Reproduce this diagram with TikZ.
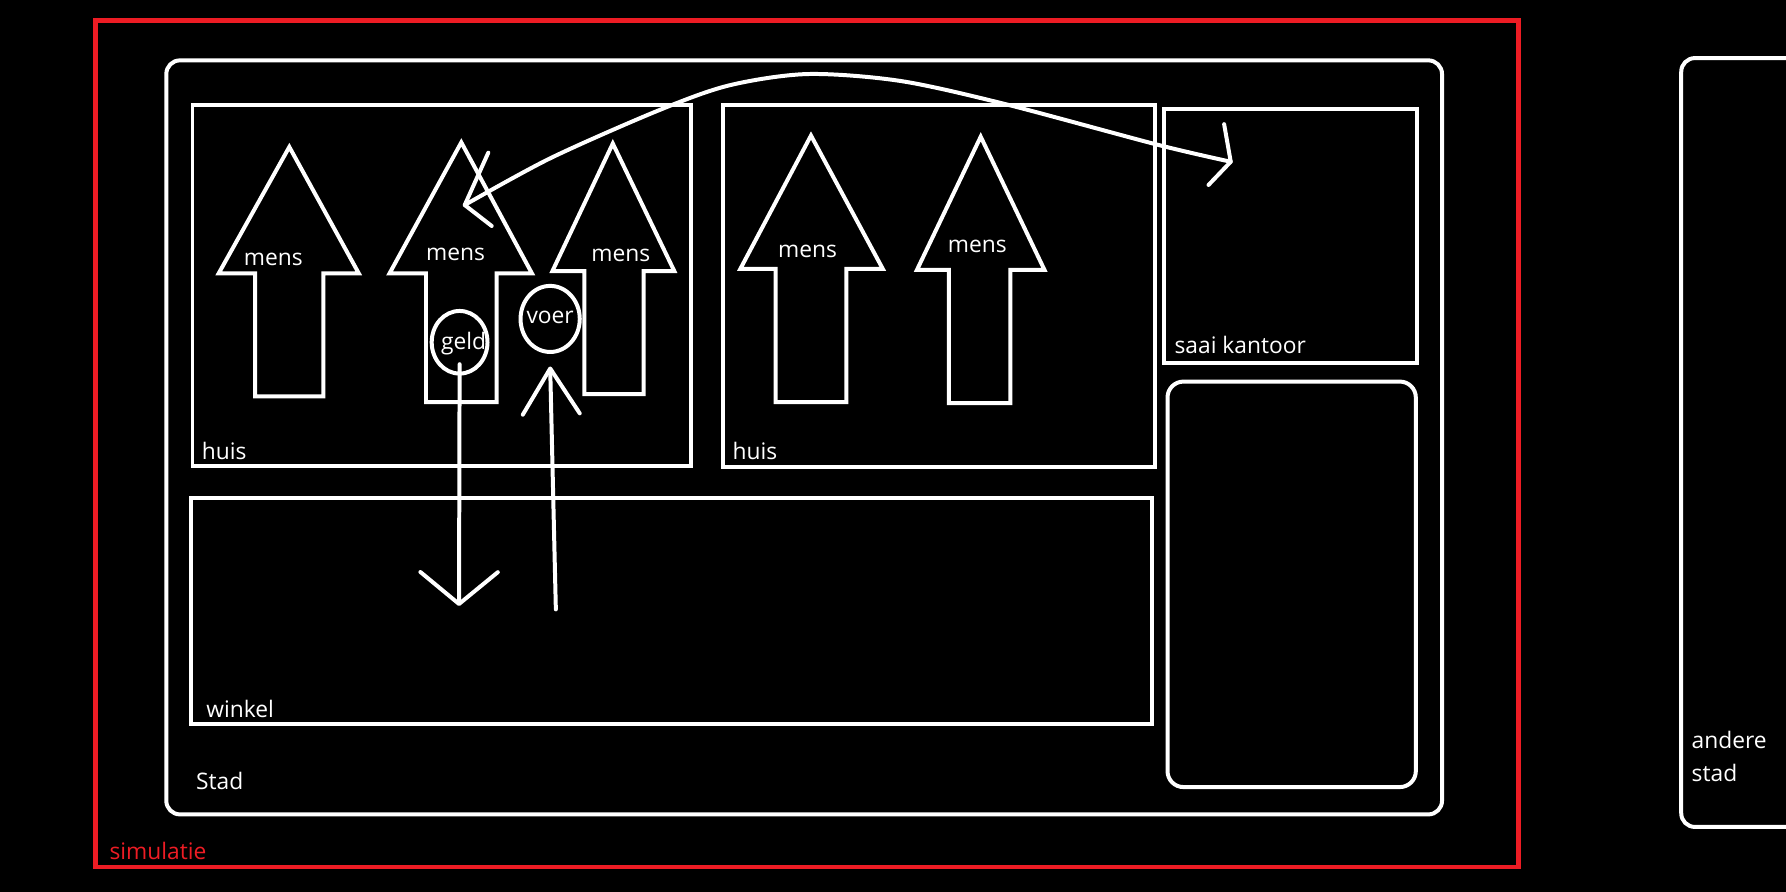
\documentclass[tikz,border=0pt]{standalone}
\usepackage{fontspec}
\setmainfont{Open Sans}
\usetikzlibrary{arrows.meta,shapes.geometric}
\definecolor{paintrood}{RGB}{237,28,36}

\begin{document}
\begin{tikzpicture}[x=1pt,y=-1pt,
  lijn/.style={draw=white,line width=3.5pt},
  vak/.style={lijn,rectangle,inner sep=0pt,outer sep=0pt,anchor=north west},
  tekst/.style={text=white,font=\fontsize{20}{29}\selectfont,inner sep=0pt},
  pijl/.style={draw=white,line width=3.5pt,line cap=round}]
\fill[black] (0,0) rectangle (1568,783);
\useasboundingbox (0,0) rectangle (1568,783);
\clip (0,0) rectangle (1568,783);

% simulatie en steden
\node[vak,draw=paintrood,line width=4pt,minimum width=1249pt,minimum height=743pt] (simulatie) at (84,18) {};
\node[tekst,text=paintrood,anchor=base west] (simulatietxt) at (96,755) {simulatie};
\node[vak,rounded corners=12pt,minimum width=1120pt,minimum height=662pt] (stad) at (146,53) {};
\node[tekst,anchor=base west] (stadtxt) at (172,693) {Stad};
\node[vak,rounded corners=12pt,minimum width=200pt,minimum height=675pt] (andereStad) at (1476,51) {};
\node[tekst,anchor=base west,align=left] (andereStadtxt) at (1485,686) {andere\\stad};

% gebouwen
\node[vak,minimum width=438pt,minimum height=317pt] (huisA) at (169,92) {};
\node[tekst,anchor=base west] (huisAtxt) at (177,403) {huis};
\node[vak,minimum width=379pt,minimum height=318pt] (huisB) at (635,92) {};
\node[tekst,anchor=base west] (huisBtxt) at (643,403) {huis};
\node[vak,minimum width=222pt,minimum height=223pt] (kantoor) at (1022,96) {};
\node[tekst,anchor=base west] (kantoortxt) at (1031,310) {saai kantoor};
\node[vak,rounded corners=14pt,minimum width=218pt,minimum height=356pt] (leeg) at (1025,335) {};
\node[vak,minimum width=843pt,minimum height=199pt] (winkel) at (168,437) {};
\node[tekst,anchor=base west] (winkeltxt) at (181,630) {winkel};

% mensen
\draw[lijn] (254,129) -- (315,240) -- (284,240) -- (284,348) -- (224,348) -- (224,240) -- (192,240) -- cycle;
\draw[lijn] (405,125) -- (467,240) -- (436,240) -- (436,353) -- (374,353) -- (374,240) -- (342,240) -- cycle;
\draw[lijn] (538,126) -- (592,238) -- (565,238) -- (565,346) -- (513,346) -- (513,238) -- (485,238) -- cycle;
\draw[lijn] (712,119) -- (775,236) -- (743,236) -- (743,353) -- (681,353) -- (681,236) -- (650,236) -- cycle;
\draw[lijn] (861,120) -- (917,237) -- (887,237) -- (887,354) -- (833,354) -- (833,237) -- (805,237) -- cycle;
\node[tekst,anchor=base] (mensA) at (240,233) {mens};
\node[tekst,anchor=base] (mensB) at (400,229) {mens};
\node[tekst,anchor=base] (mensC) at (545,230) {mens};
\node[tekst,anchor=base] (mensD) at (709,226) {mens};
\node[tekst,anchor=base] (mensE) at (858,222) {mens};

% geld en voer
\node[lijn,ellipse,minimum width=49pt,minimum height=55pt,inner sep=0pt] (geld) at (403.5,300.5) {};
\node[tekst,anchor=base] (geldtxt) at (407,307) {geld};
\node[lijn,ellipse,minimum width=52pt,minimum height=58pt,inner sep=0pt] (voer) at (483,280) {};
\node[tekst,anchor=base] (voertxt) at (483,284) {voer};

\coordinate (geldDoel) at (403,532);
\coordinate (voerBron) at (488,535);
\coordinate (mensDoel) at (408,180);
\coordinate (kantoorDoel) at (1080.5,142);

\draw[pijl,-{Straight Barb[length=28pt,width=68pt,round]}] ([yshift=10pt]geld.south) -- (geldDoel);
\draw[pijl,-{Straight Barb[length=40pt,width=50pt,round]}] (voerBron) -- ([yshift=-11pt]voer.south);
% heen en weer naar het kantoor
\draw[pijl] plot[smooth] coordinates {(mensDoel) (483,139) (578,97) (640,75) (709,65) (790,71) (881,91) (1016,127) (kantoorDoel)};
\draw[pijl,line join=round] (mensDoel) ++(20.7,-46) -- (mensDoel) -- ++(23.7,18.4);
\draw[pijl,line join=round] (kantoorDoel) ++(-5.8,-33) -- (kantoorDoel) -- ++(-19.5,20.4);
\end{tikzpicture}
\end{document}
